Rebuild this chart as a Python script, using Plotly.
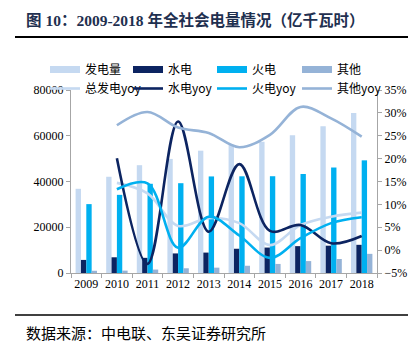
import plotly.graph_objects as go

years = ["2009", "2010", "2011", "2012", "2013", "2014", "2015", "2016", "2017", "2018"]
total_gen = [36812, 42072, 47130, 49876, 53474, 56045, 57399, 60228, 64179, 69940]
hydro = [5717, 6867, 6626, 8556, 8921, 10601, 11127, 11748, 11945, 12321]
thermal = [30117, 34166, 39003, 39255, 42216, 42274, 42307, 43273, 46115, 49249]
other = [978, 1039, 1501, 2065, 2337, 3170, 3965, 5207, 6119, 8370]

yoy_years = years[1:]
total_yoy = [14.7, 12.4, 5.3, 7.0, 5.9, 1.1, 5.5, 7.3, 8.2]
hydro_yoy = [20.1, -3.0, 28.1, 4.0, 18.8, 4.2, 5.5, 1.5, 3.1]
thermal_yoy = [13.3, 14.6, 0.5, 7.3, 3.2, -1.7, 2.6, 5.9, 7.2]
other_yoy = [27.3, 30.2, 26.8, 25.6, 22.5, 25.2, 31.3, 28.8, 24.8]

bar_names = ["发电量", "水电", "火电", "其他"]
line_names = ["总发电yoy", "水电yoy", "火电yoy", "其他yoy"]
c_light = "#C5D9F1"
c_dark = "#0C2461"
c_cyan = "#00B0F0"
c_mid = "#95B3D7"
colors = [c_light, c_dark, c_cyan, c_mid]

serif = "Liberation Serif, Noto Sans CJK SC"
cjk = "Noto Sans CJK SC"

L, R, T, B = 71, 42, 90, 79
W, H = 419, 352
pw = W - L - R
ph = H - T - B

def px_x(x):
    return (x - L) / pw

def px_y(y):
    return (H - B - y) / ph

legend_ids = ["legend", "legend2", "legend3", "legend4"]
legend_x = [45, 128, 212, 297]

fig = go.Figure()
for name, vals, col in zip(bar_names, [total_gen, hydro, thermal, other], colors):
    fig.add_trace(go.Bar(x=years, y=vals, name=name, marker=dict(color=col, line=dict(width=0)),
                         showlegend=False))

# legend entries for bars (thick line symbols), one legend column per series pair
for name, col, lid in zip(bar_names, colors, legend_ids):
    fig.add_trace(go.Scatter(x=[None], y=[None], mode="lines", name=name, legend=lid,
                             line=dict(color=col, width=7), showlegend=True))

for name, vals, col, lid in zip(line_names, [total_yoy, hydro_yoy, thermal_yoy, other_yoy], colors, legend_ids):
    fig.add_trace(go.Scatter(x=yoy_years, y=[v / 100 for v in vals], name=name, yaxis="y2", legend=lid,
                             mode="lines", line=dict(color=col, width=2.6, shape="spline", smoothing=1.0)))

leg_common = dict(orientation="v", xanchor="left", yanchor="top", traceorder="normal",
                  font=dict(family=cjk, size=12, color="#000000"), bgcolor="rgba(0,0,0,0)",
                  itemwidth=30, tracegroupgap=0)

layout_legends = {}
for lid, lx in zip(legend_ids, legend_x):
    layout_legends[lid] = dict(x=px_x(lx), y=px_y(55), **leg_common)

fig.update_layout(
    width=W, height=H,
    margin=dict(l=L, r=R, t=T, b=B, pad=0),
    paper_bgcolor="white", plot_bgcolor="white",
    barmode="group", bargap=0.3, bargroupgap=0.0,
    font=dict(family=serif, size=12, color="#000000"),
    xaxis=dict(type="category", showline=True, linecolor="#A6A6A6", linewidth=1,
               ticks="outside", ticklen=4, tickcolor="#A6A6A6", tickson="boundaries",
               tickangle=0, tickfont=dict(family=serif, size=12), showgrid=False),
    yaxis=dict(range=[0, 80000], dtick=20000, tickformat="d", showline=True, linecolor="#A6A6A6", linewidth=1,
               ticks="outside", ticklen=4, tickcolor="#A6A6A6", showgrid=False, zeroline=False,
               tickfont=dict(family=serif, size=12)),
    yaxis2=dict(range=[-0.05, 0.35], dtick=0.05, tickformat=".0%", overlaying="y", side="right",
                showline=True, linecolor="#A6A6A6", linewidth=1, ticks="outside", ticklen=4,
                tickcolor="#A6A6A6", showgrid=False, zeroline=False,
                tickfont=dict(family=serif, size=12)),
    showlegend=True,
    **layout_legends,
)

fig.add_annotation(text="<b>图 10：2009-2018 年全社会电量情况（亿千瓦时）</b>",
                   xref="paper", yref="paper", x=px_x(24), y=px_y(20), xanchor="left", yanchor="middle",
                   showarrow=False, font=dict(family=serif, size=15.5, color="#1F3050"))
fig.add_annotation(text="数据来源：中电联、东吴证券研究所",
                   xref="paper", yref="paper", x=px_x(24), y=px_y(332), xanchor="left", yanchor="middle",
                   showarrow=False, font=dict(family=cjk, size=15, color="#000000"))
fig.add_shape(type="line", xref="paper", yref="paper", x0=px_x(15), x1=px_x(408), y0=px_y(37), y1=px_y(37),
              line=dict(color="#000000", width=2))
fig.add_shape(type="line", xref="paper", yref="paper", x0=px_x(15), x1=px_x(408), y0=px_y(315), y1=px_y(315),
              line=dict(color="#000000", width=1.5))

fig.write_html("out.html")
